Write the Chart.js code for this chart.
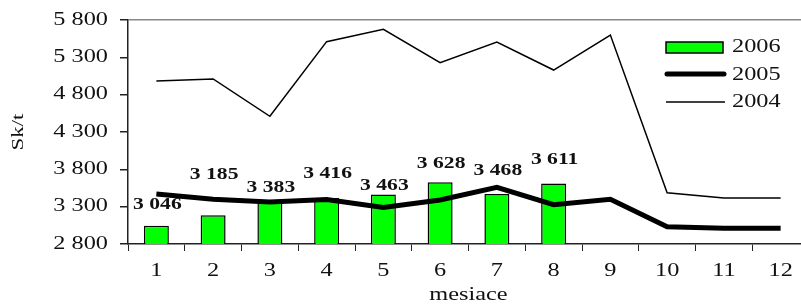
<!DOCTYPE html>
<html>
<head>
<meta charset="utf-8">
<script src="https://cdn.jsdelivr.net/npm/chart.js@4/dist/chart.umd.min.js"></script>
<style>
  html, body { margin: 0; padding: 0; background: #fff; overflow: hidden; }
  #wrap { width: 812px; height: 304px; }
</style>
</head>
<body>
<div id="wrap"><canvas id="myChart"></canvas></div>
<script>
const months = ['1', '2', '3', '4', '5', '6', '7', '8', '9', '10', '11', '12'];
const values2006 = [3046, 3185, 3383, 3416, 3463, 3628, 3468, 3611];
const values2005 = [3470, 3400, 3362, 3396, 3290, 3390, 3559, 3326, 3399, 3032, 3010, 3010];
const values2004 = [4983, 5010, 4510, 5510, 5675, 5228, 5505, 5130, 5599, 3487, 3416, 3416];
const yTicks = [2800, 3300, 3800, 4300, 4800, 5300, 5800];

const serif = '"Liberation Serif", "Times New Roman", serif';
const SX = 1.35; // the original text is drawn wide
const fmt = v => String(v).replace(/\B(?=(\d{3})+(?!\d))/g, ' ');

function wideText(c, text, x, y, align) {
    c.save();
    c.translate(x, y);
    c.scale(SX, 1);
    c.textAlign = align;
    c.fillText(text, 0, 0);
    c.restore();
}

// axis labels, titles and legend, all in the stretched serif face
const textLayer = {
    id: 'textLayer',
    afterDraw(chart) {
        const c = chart.ctx;
        const xs = chart.scales.x, ys = chart.scales.y;
        c.save();
        c.fillStyle = '#111';
        c.textBaseline = 'middle';
        c.font = '18px ' + serif;
        yTicks.forEach(v => wideText(c, fmt(v), 108, ys.getPixelForValue(v), 'right'));
        months.forEach((m, i) => wideText(c, m, xs.getPixelForValue(i), 271, 'center'));
        wideText(c, 'mesiace', (chart.chartArea.left + chart.chartArea.right) / 2, 295, 'center');

        c.save();
        c.translate(19, 132);
        c.rotate(-Math.PI / 2);
        c.font = '17px ' + serif;
        wideText(c, 'Sk/t', 0, 0, 'center');
        c.restore();

        // legend
        c.fillStyle = '#00ff00';
        c.fillRect(666, 42, 57, 11);
        c.strokeStyle = '#000';
        c.lineWidth = 1.5;
        c.strokeRect(666, 42, 57, 11);
        c.lineCap = 'round';
        c.lineWidth = 5;
        c.beginPath(); c.moveTo(667, 74); c.lineTo(724, 74); c.stroke();
        c.lineWidth = 1.5;
        c.lineCap = 'butt';
        c.beginPath(); c.moveTo(666, 102); c.lineTo(725, 102); c.stroke();
        c.fillStyle = '#111';
        c.font = '18px ' + serif;
        wideText(c, '2006', 732, 47, 'left');
        wideText(c, '2005', 732, 75, 'left');
        wideText(c, '2004', 732, 102, 'left');
        c.restore();
    }
};

// bold value labels above the 2006 bars, nudged clear of the 2005 line
const labelLift = [21, 40, 13, 24, 9, 18, 23, 24];
const barLabels = {
    id: 'barLabels',
    afterDatasetsDraw(chart) {
        const c = chart.ctx;
        const meta = chart.getDatasetMeta(0);
        c.save();
        c.font = 'bold 16px ' + serif;
        c.fillStyle = '#111';
        c.textBaseline = 'middle';
        meta.data.forEach((bar, i) => {
            wideText(c, fmt(values2006[i]), bar.x + 1, bar.y - labelLift[i], 'center');
        });
        c.restore();
    }
};

const ctx = document.getElementById('myChart').getContext('2d');
const myChart = new Chart(ctx, {
    type: 'bar',
    data: {
        labels: months,
        datasets: [{
            label: '2006',
            data: values2006,
            backgroundColor: '#00ff00',
            borderColor: '#000',
            borderWidth: 1.5,
            barPercentage: 0.44,
            categoryPercentage: 1,
            order: 3
        }, {
            type: 'line',
            label: '2005',
            data: values2005,
            borderColor: '#000',
            borderWidth: 5,
            pointRadius: 0,
            tension: 0,
            fill: false,
            order: 1
        }, {
            type: 'line',
            label: '2004',
            data: values2004,
            borderColor: '#000',
            borderWidth: 1.5,
            pointRadius: 0,
            tension: 0,
            fill: false,
            order: 2
        }]
    },
    options: {
        responsive: true,
        maintainAspectRatio: false,
        animation: false,
        layout: { padding: { top: 20, right: 3, left: 0, bottom: 0 } },
        plugins: {
            legend: { display: false },
            tooltip: { enabled: false }
        },
        scales: {
            x: {
                offset: true,
                grid: {
                    offset: true,
                    drawOnChartArea: false,
                    tickLength: 7,
                    tickColor: '#222',
                    lineWidth: 1
                },
                border: { color: '#222', width: 1.5 },
                ticks: { display: false },
                afterFit(scale) { scale.height = 60; }
            },
            y: {
                min: 2800,
                max: 5800,
                afterBuildTicks(scale) { scale.ticks = yTicks.map(v => ({ value: v })); },
                grid: {
                    color: c => (c.tick && c.tick.value === 5800 ? '#888' : 'transparent'),
                    tickColor: '#222',
                    tickLength: 8,
                    lineWidth: 1.5
                },
                border: { color: '#222', width: 1.5 },
                ticks: { display: false },
                afterFit(scale) { scale.width = 128; }
            }
        }
    },
    plugins: [barLabels, textLayer]
});
</script>
</body>
</html>
